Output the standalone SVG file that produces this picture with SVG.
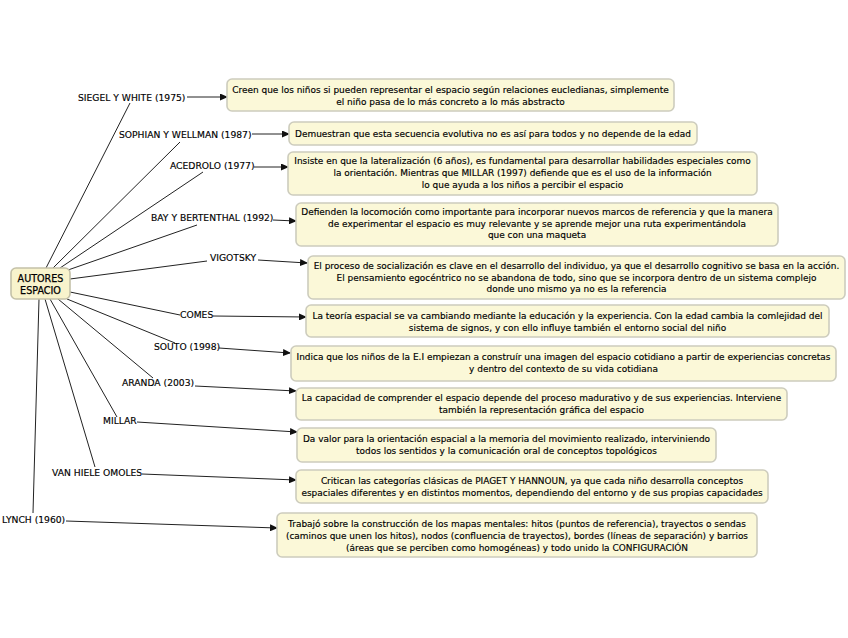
<svg xmlns="http://www.w3.org/2000/svg" width="848" height="638" viewBox="0 0 848 638">
<style>
.bg{fill:#ffffff}
.box{fill:#fbf8d8;stroke:#cdccbd;stroke-width:1.6}
.root{fill:#f8f3cc;stroke:#c4c1a8;stroke-width:1.6}
.t{font-family:"DejaVu Sans",Verdana,sans-serif;font-size:8.95px;fill:#000;stroke:#000;stroke-width:0.15;text-anchor:middle}
.lbl{font-family:"DejaVu Sans",Verdana,sans-serif;font-size:9.2px;fill:#000;stroke:#000;stroke-width:0.15}
.rt{font-family:"DejaVu Sans",Verdana,sans-serif;font-size:9.6px;fill:#000;stroke:#000;stroke-width:0.25;text-anchor:middle}
.ln{stroke:#222;stroke-width:1;fill:none}
.ar{stroke:#222;stroke-width:1;fill:none;marker-end:url(#ah)}
</style>
<defs>
<marker id="ah" markerWidth="8" markerHeight="7" refX="7" refY="3.5" orient="auto" markerUnits="userSpaceOnUse">
<path d="M0,0 L8,3.5 L0,7 Z" fill="#111"/>
</marker>
</defs>
<rect class="bg" x="0" y="0" width="848" height="638"/>
<g id="connectors">
<line class="ln" x1="46" y1="268" x2="130" y2="103"/>
<line class="ln" x1="53" y1="268" x2="180" y2="142"/>
<line class="ln" x1="60" y1="268" x2="203" y2="172"/>
<line class="ln" x1="68" y1="270" x2="197" y2="225"/>
<line class="ln" x1="70" y1="279" x2="207" y2="261"/>
<line class="ln" x1="70" y1="292" x2="180" y2="315"/>
<line class="ln" x1="67" y1="299" x2="175" y2="343"/>
<line class="ln" x1="58" y1="299" x2="153" y2="378"/>
<line class="ln" x1="50" y1="299" x2="117" y2="417"/>
<line class="ln" x1="45" y1="299" x2="95" y2="467"/>
<line class="ln" x1="39" y1="299" x2="33" y2="513"/>
<line class="ar" x1="187" y1="97" x2="227" y2="97"/>
<line class="ar" x1="252" y1="134" x2="289" y2="134"/>
<line class="ar" x1="254" y1="167" x2="288" y2="167"/>
<line class="ar" x1="273" y1="220" x2="296" y2="221"/>
<line class="ar" x1="258" y1="260" x2="307" y2="263"/>
<line class="ar" x1="213" y1="316" x2="306" y2="317"/>
<line class="ar" x1="219" y1="348" x2="290" y2="353"/>
<line class="ar" x1="195" y1="386" x2="296" y2="391"/>
<line class="ar" x1="137" y1="422" x2="297" y2="432"/>
<line class="ar" x1="142" y1="474" x2="296" y2="480"/>
<line class="ar" x1="66" y1="521" x2="277" y2="528"/>
</g>
<g id="root">
<rect class="root" x="11" y="268" width="59" height="31" rx="5"/>
<text class="rt" x="40.5" y="281.5">AUTORES</text>
<text class="rt" x="40.5" y="294">ESPACIO</text>
</g>
<g id="lbl-siegel"><text class="lbl" x="78" y="101">SIEGEL Y WHITE (1975)</text></g>
<g id="lbl-sophian"><text class="lbl" x="119" y="138">SOPHIAN Y WELLMAN (1987)</text></g>
<g id="lbl-acedrolo"><text class="lbl" x="170" y="169">ACEDROLO (1977)</text></g>
<g id="lbl-bay"><text class="lbl" x="151" y="221">BAY Y BERTENTHAL (1992)</text></g>
<g id="lbl-vigotsky"><text class="lbl" x="210" y="261">VIGOTSKY</text></g>
<g id="lbl-comes"><text class="lbl" x="180" y="318">COMES</text></g>
<g id="lbl-souto"><text class="lbl" x="154" y="350">SOUTO (1998)</text></g>
<g id="lbl-aranda"><text class="lbl" x="122" y="386">ARANDA (2003)</text></g>
<g id="lbl-millar"><text class="lbl" x="103" y="424">MILLAR</text></g>
<g id="lbl-vanhiele"><text class="lbl" x="52" y="476">VAN HIELE OMOLES</text></g>
<g id="lbl-lynch"><text class="lbl" x="2" y="523">LYNCH (1960)</text></g>
<g id="box-siegel">
<rect class="box" x="227" y="79" width="447" height="32" rx="5"/>
<text class="t" x="450.5" y="93">Creen que los niños si pueden representar el espacio según relaciones eucledianas, simplemente</text>
<text class="t" x="450.5" y="105">el niño pasa de lo más concreto a lo más abstracto</text>
</g>
<g id="box-sophian">
<rect class="box" x="289" y="122" width="408" height="23" rx="5"/>
<text class="t" x="493" y="136.5">Demuestran que esta secuencia evolutiva no es así para todos y no depende de la edad</text>
</g>
<g id="box-acedrolo">
<rect class="box" x="288" y="152" width="469" height="43" rx="5"/>
<text class="t" x="522.5" y="164">Insiste en que la lateralización (6 años), es fundamental para desarrollar habilidades especiales como</text>
<text class="t" x="522.5" y="176">la orientación. Mientras que MILLAR (1997) defiende que es el uso de la información</text>
<text class="t" x="522.5" y="188">lo que ayuda a los niños a percibir el espacio</text>
</g>
<g id="box-bay">
<rect class="box" x="296" y="203" width="482" height="43" rx="5"/>
<text class="t" x="537" y="215">Defienden la locomoción como importante para incorporar nuevos marcos de referencia y que la manera</text>
<text class="t" x="537" y="226.5">de experimentar el espacio es muy relevante y se aprende mejor una ruta experimentándola</text>
<text class="t" x="537" y="238">que con una maqueta</text>
</g>
<g id="box-vigotsky">
<rect class="box" x="308" y="256" width="537" height="43" rx="5"/>
<text class="t" x="576.5" y="269">El proceso de socialización es clave en el desarrollo del individuo, ya que el desarrollo cognitivo se basa en la acción.</text>
<text class="t" x="576.5" y="280.5">El pensamiento egocéntrico no se abandona de todo, sino que se incorpora dentro de un sistema complejo</text>
<text class="t" x="576.5" y="292">donde uno mismo ya no es la referencia</text>
</g>
<g id="box-comes">
<rect class="box" x="306" y="305" width="523" height="32" rx="5"/>
<text class="t" x="567.5" y="319">La teoría espacial se va cambiando mediante la educación y la experiencia. Con la edad cambia la comlejidad del</text>
<text class="t" x="567.5" y="330.5">sistema de signos, y con ello influye también el entorno social del niño</text>
</g>
<g id="box-souto">
<rect class="box" x="291" y="346" width="545" height="35" rx="5"/>
<text class="t" x="563.5" y="360">Indica que los niños de la E.I empiezan a construír una imagen del espacio cotidiano a partir de experiencias concretas</text>
<text class="t" x="563.5" y="372">y dentro del contexto de su vida cotidiana</text>
</g>
<g id="box-aranda">
<rect class="box" x="296" y="388" width="491" height="32" rx="5"/>
<text class="t" x="541.5" y="401">La capacidad de comprender el espacio depende del proceso madurativo y de sus experiencias. Interviene</text>
<text class="t" x="541.5" y="413">también la representación gráfica del espacio</text>
</g>
<g id="box-millar">
<rect class="box" x="297" y="428" width="419" height="34" rx="5"/>
<text class="t" x="506.5" y="442">Da valor para la orientación espacial a la memoria del movimiento realizado, interviniendo</text>
<text class="t" x="506.5" y="454">todos los sentidos y la comunicación oral de conceptos topológicos</text>
</g>
<g id="box-vanhiele">
<rect class="box" x="296" y="470" width="472" height="33" rx="5"/>
<text class="t" x="532" y="484">Critican las categorías clásicas de PIAGET Y HANNOUN, ya que cada niño desarrolla conceptos</text>
<text class="t" x="532" y="495.5">espaciales diferentes y en distintos momentos, dependiendo del entorno y de sus propias capacidades</text>
</g>
<g id="box-lynch">
<rect class="box" x="277" y="513" width="480" height="44" rx="5"/>
<text class="t" x="517" y="527">Trabajó sobre la construcción de los mapas mentales: hitos (puntos de referencia), trayectos o sendas</text>
<text class="t" x="517" y="539">(caminos que unen los hitos), nodos (confluencia de trayectos), bordes (líneas de separación) y barrios</text>
<text class="t" x="517" y="550.5">(áreas que se perciben como homogéneas) y todo unido la CONFIGURACIÓN</text>
</g>
</svg>
